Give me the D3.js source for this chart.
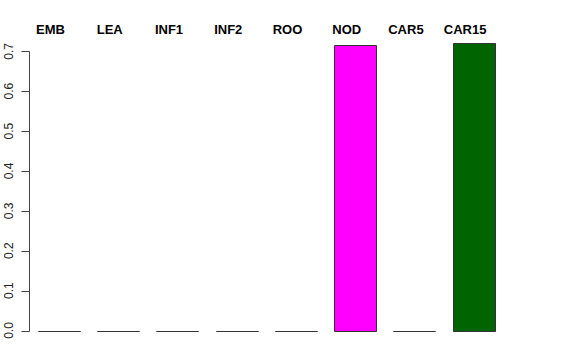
<!DOCTYPE html>
<html>
<head>
  <meta charset="utf-8">
  <script src="https://d3js.org/d3.v7.min.js"></script>
  <style>
    body { margin: 0; background: #fff; }
    text { font-family: "Liberation Sans", Arial, sans-serif; }
  </style>
</head>
<body>
<div class="chart"></div>
<script>
// bar data
var categories = ['EMB', 'LEA', 'INF1', 'INF2', 'ROO', 'NOD', 'CAR5', 'CAR15'];
var values = [0, 0, 0, 0, 0, 0.716, 0, 0.722];
var colours = ['#ff0000', '#ff0000', '#ff0000', '#ff0000', '#ff0000', '#ff00ff', '#ff0000', '#006400'];
var yTicks = [0, 0.1, 0.2, 0.3, 0.4, 0.5, 0.6, 0.7];

var width = 576, height = 360;

var svg = d3.select('.chart')
  .append('svg')
  .attr('width', width)
  .attr('height', height);

var x = d3.scaleBand()
  .domain(categories)
  .range([38, 494.7])
  .paddingInner(0.29)
  .paddingOuter(0);

var y = d3.scaleLinear()
  .domain([0, 0.7])
  .range([330.5, 51.3]);

// bars as paths so that zero-height ones still show as a flat line, like R does
function barPath(d, i) {
  var x0 = Math.round(x(categories[i])) + 0.5;
  var x1 = x0 + Math.round(x.bandwidth());
  var y0 = Math.round(y(0)) + 0.5;
  var y1 = Math.round(y(d)) + 0.5;
  return 'M' + x0 + ',' + y0 + 'V' + y1 + 'H' + x1 + 'V' + y0 + 'Z';
}

svg.selectAll('path.bar')
  .data(values)
  .enter()
  .append('path')
  .attr('class', 'bar')
  .attr('d', barPath)
  .attr('fill', function(d, i) { return colours[i]; })
  .attr('stroke', '#333')
  .attr('stroke-width', 1);

// category labels along the top
svg.selectAll('text.cat')
  .data(categories)
  .enter()
  .append('text')
  .attr('class', 'cat')
  .attr('x', function(d) { return x(d) + x.bandwidth() / 2 - 8.5; })
  .attr('y', 34.3)
  .attr('text-anchor', 'middle')
  .attr('font-size', 13)
  .attr('font-weight', 'bold')
  .text(function(d) { return d; });

// y axis, R style: line only spans the ticks, labels turned sideways
var axis = svg.append('g')
  .attr('transform', 'translate(29.5,0)');

axis.append('line')
  .attr('x1', 0).attr('x2', 0)
  .attr('y1', Math.round(y(0)) + 0.5).attr('y2', Math.round(y(0.7)) + 0.5)
  .attr('stroke', '#444');

axis.selectAll('line.tick')
  .data(yTicks)
  .enter()
  .append('line')
  .attr('class', 'tick')
  .attr('x1', -8).attr('x2', 0)
  .attr('y1', function(d) { return Math.round(y(d)) + 0.5; })
  .attr('y2', function(d) { return Math.round(y(d)) + 0.5; })
  .attr('stroke', '#444');

svg.selectAll('text.ytick')
  .data(yTicks)
  .enter()
  .append('text')
  .attr('class', 'ytick')
  .attr('transform', function(d) { return 'translate(13,' + y(d) + ') rotate(-90)'; })
  .attr('text-anchor', 'middle')
  .attr('font-size', 12)
  .attr('fill', '#222')
  .text(function(d) { return d3.format('.1f')(d); });
</script>
</body>
</html>
